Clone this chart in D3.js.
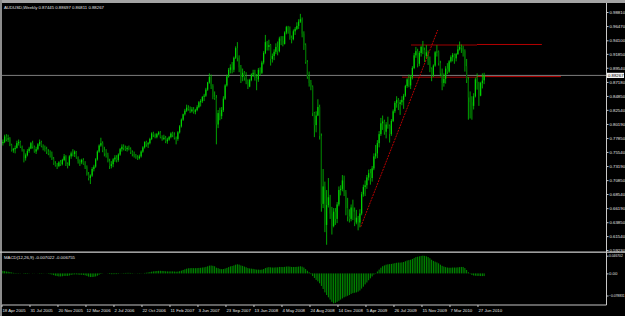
<!DOCTYPE html>
<html>
<head>
<meta charset="utf-8">
<script src="https://cdn.jsdelivr.net/npm/d3@7"></script>
<style>
  body { margin: 0; background: #000; overflow: hidden; }
  svg { display: block; }
  text { font-family: "Liberation Sans", Arial, sans-serif; font-size: 4.3px; fill: #e4e4e4; }
  text.small { font-size: 3.3px; }
</style>
</head>
<body>
<svg id="chart" width="625" height="316"></svg>
<script>
// AUDUSD weekly bars, one row of 16 weeks per line (last line: 4 weeks)
const open = [
  .7700,.7720,.7810,.7760,.7780,.7670,.7580,.7600,.7620,.7700,.7720,.7640,.7590,.7450,.7500,.7570,
  .7610,.7700,.7640,.7560,.7600,.7680,.7720,.7650,.7620,.7600,.7560,.7530,.7510,.7440,.7360,.7330,
  .7320,.7380,.7350,.7420,.7480,.7350,.7330,.7480,.7530,.7520,.7560,.7460,.7400,.7380,.7420,.7360,
  .7300,.7180,.7120,.7160,.7270,.7310,.7430,.7560,.7660,.7700,.7580,.7530,.7500,.7400,.7320,.7350,
  .7430,.7460,.7420,.7510,.7600,.7640,.7620,.7600,.7620,.7600,.7550,.7520,.7490,.7460,.7450,.7480,
  .7560,.7630,.7720,.7680,.7700,.7770,.7860,.7840,.7800,.7850,.7880,.7800,.7770,.7790,.7730,.7760,
  .7800,.7860,.7840,.7790,.7770,.7880,.7980,.8090,.8180,.8240,.8290,.8270,.8230,.8260,.8220,.8250,
  .8300,.8380,.8400,.8470,.8490,.8590,.8710,.8800,.8650,.8470,.8450,.8010,.8200,.8150,.8250,.8440,
  .8660,.8810,.8920,.8960,.8920,.9120,.9280,.9120,.8960,.8800,.8870,.8790,.8720,.8640,.8750,.8840,
  .8870,.8780,.8760,.8920,.8870,.9040,.9200,.9380,.9300,.9330,.9100,.9150,.9220,.9300,.9230,.9440,
  .9400,.9350,.9540,.9630,.9570,.9450,.9430,.9560,.9600,.9650,.9720,.9760,.9520,.9330,.9050,.8800,
  .8700,.8640,.8200,.8000,.8160,.8300,.7820,.6690,.6980,.6340,.6670,.6800,.6530,.6320,.6560,.6440,
  .6680,.6920,.6940,.7080,.6880,.6620,.6480,.6440,.6630,.6560,.6380,.6460,.6380,.6530,.6850,.6970,
  .7000,.7130,.7200,.7120,.7280,.7480,.7530,.7700,.7850,.8030,.8060,.7890,.8010,.7990,.7850,.8070,
  .8230,.8370,.8420,.8350,.8380,.8420,.8490,.8650,.8760,.8660,.8800,.8950,.9160,.9230,.9020,.9200,
  .9300,.9250,.9150,.9210,.9070,.8940,.8830,.8990,.9210,.9220,.9030,.8860,.8700,.8770,.8940,.8890,
  .9060,.9130,.9170,.9110,.9180,.9260,.9300,.9290,.9230,.8980,.8760,.8460,.8380,.8320,.8480,.8760,
  .8700,.8490,.8700,.87445
];
const high = [
  .7760,.7840,.7850,.7840,.7800,.7690,.7620,.7660,.7740,.7760,.7740,.7660,.7600,.7530,.7600,.7640,
  .7720,.7740,.7660,.7640,.7700,.7760,.7740,.7680,.7660,.7640,.7600,.7580,.7560,.7470,.7400,.7370,
  .7400,.7420,.7440,.7520,.7500,.7380,.7500,.7560,.7600,.7580,.7570,.7480,.7430,.7440,.7450,.7400,
  .7330,.7220,.7180,.7300,.7340,.7450,.7580,.7680,.7790,.7730,.7640,.7600,.7540,.7440,.7400,.7450,
  .7500,.7500,.7530,.7620,.7680,.7680,.7660,.7650,.7660,.7630,.7580,.7560,.7520,.7500,.7510,.7580,
  .7650,.7730,.7740,.7720,.7790,.7880,.7890,.7860,.7870,.7900,.7900,.7830,.7840,.7820,.7790,.7820,
  .7880,.7890,.7880,.7810,.7900,.8000,.8110,.8190,.8270,.8340,.8330,.8310,.8300,.8300,.8270,.8330,
  .8400,.8430,.8480,.8520,.8620,.8720,.8860,.8840,.8680,.8560,.8500,.8250,.8290,.8300,.8480,.8680,
  .8840,.8950,.9010,.9050,.9140,.9310,.9380,.9160,.9000,.8940,.8900,.8880,.8760,.8770,.8860,.8920,
  .8920,.8850,.8950,.8960,.9070,.9230,.9500,.9400,.9420,.9350,.9190,.9260,.9360,.9390,.9470,.9480,
  .9480,.9560,.9650,.9650,.9640,.9490,.9590,.9630,.9710,.9760,.9850,.9790,.9560,.9360,.9080,.8890,
  .8750,.8660,.8220,.8230,.8430,.8340,.7860,.7270,.7060,.6920,.7120,.6840,.6640,.6620,.6620,.6720,
  .6980,.7000,.7170,.7160,.6920,.6790,.6600,.6680,.6760,.6630,.6590,.6490,.6600,.6890,.7010,.7080,
  .7170,.7260,.7270,.7320,.7530,.7670,.7750,.7900,.8120,.8160,.8090,.8050,.8140,.8010,.8100,.8260,
  .8400,.8480,.8450,.8420,.8480,.8520,.8670,.8780,.8840,.8830,.8980,.9200,.9300,.9270,.9230,.9320,
  .9400,.9290,.9330,.9240,.9140,.8960,.9010,.9230,.9330,.9240,.9070,.8940,.8860,.8980,.9030,.9080,
  .9160,.9200,.9190,.9200,.9330,.9390,.9340,.9320,.9260,.9100,.8800,.8560,.8480,.8530,.8790,.8860,
  .8720,.8720,.8860,.88697
];
const low = [
  .7660,.7700,.7730,.7720,.7650,.7560,.7540,.7530,.7610,.7660,.7620,.7560,.7380,.7410,.7480,.7540,
  .7600,.7610,.7540,.7520,.7580,.7650,.7630,.7580,.7560,.7520,.7500,.7460,.7420,.7340,.7310,.7270,
  .7300,.7320,.7330,.7400,.7320,.7280,.7320,.7440,.7480,.7470,.7440,.7360,.7320,.7350,.7340,.7270,
  .7160,.7080,.7020,.7140,.7230,.7290,.7410,.7540,.7640,.7550,.7480,.7460,.7380,.7270,.7280,.7300,
  .7390,.7380,.7390,.7490,.7560,.7580,.7570,.7560,.7580,.7520,.7480,.7460,.7440,.7420,.7430,.7460,
  .7540,.7610,.7640,.7620,.7680,.7750,.7800,.7780,.7780,.7830,.7780,.7740,.7750,.7700,.7690,.7740,
  .7780,.7800,.7760,.7680,.7740,.7860,.7960,.8070,.8160,.8220,.8240,.8200,.8210,.8190,.8180,.8230,
  .8280,.8310,.8370,.8400,.8470,.8570,.8690,.8600,.8430,.8420,.7680,.7950,.8080,.8100,.8220,.8420,
  .8640,.8790,.8860,.8860,.8880,.9100,.9060,.8880,.8700,.8730,.8740,.8680,.8600,.8630,.8730,.8800,
  .8740,.8580,.8720,.8820,.8850,.9010,.9180,.9240,.9240,.8990,.9040,.9080,.9180,.9160,.9210,.9330,
  .9310,.9340,.9510,.9520,.9420,.9360,.9410,.9500,.9580,.9600,.9700,.9460,.9250,.9020,.8770,.8640,
  .8580,.8150,.7800,.7880,.8150,.7760,.6560,.6620,.6220,.6010,.6630,.6440,.6180,.6300,.6340,.6370,
  .6650,.6830,.6900,.6820,.6500,.6400,.6380,.6400,.6420,.6320,.6350,.6250,.6300,.6500,.6810,.6820,
  .6940,.7080,.7010,.7060,.7250,.7440,.7450,.7630,.7820,.7920,.7840,.7780,.7940,.7710,.7820,.8050,
  .8200,.8290,.8250,.8170,.8330,.8270,.8470,.8620,.8630,.8600,.8760,.8930,.9120,.8960,.8980,.9140,
  .9180,.9050,.9110,.9000,.8880,.8730,.8800,.8970,.9140,.8990,.8810,.8580,.8640,.8690,.8850,.8870,
  .9040,.9060,.9020,.9060,.9170,.9240,.9200,.9140,.8890,.8700,.8090,.8110,.8090,.8260,.8460,.8590,
  .8320,.8480,.8610,.86811
];
const close = [
  .7720,.7810,.7760,.7780,.7670,.7580,.7600,.7620,.7700,.7720,.7640,.7590,.7450,.7500,.7570,.7610,
  .7700,.7640,.7560,.7600,.7680,.7720,.7650,.7620,.7600,.7560,.7530,.7510,.7440,.7360,.7330,.7320,
  .7380,.7350,.7420,.7480,.7350,.7330,.7480,.7530,.7520,.7560,.7460,.7400,.7380,.7420,.7360,.7300,
  .7180,.7120,.7160,.7270,.7310,.7430,.7560,.7660,.7700,.7580,.7530,.7500,.7400,.7320,.7350,.7430,
  .7460,.7420,.7510,.7600,.7640,.7620,.7600,.7620,.7600,.7550,.7520,.7490,.7460,.7450,.7480,.7560,
  .7630,.7720,.7680,.7700,.7770,.7860,.7840,.7800,.7850,.7880,.7800,.7770,.7790,.7730,.7760,.7800,
  .7860,.7840,.7790,.7770,.7880,.7980,.8090,.8180,.8240,.8290,.8270,.8230,.8260,.8220,.8250,.8300,
  .8380,.8400,.8470,.8490,.8590,.8710,.8800,.8650,.8470,.8450,.8010,.8200,.8150,.8250,.8440,.8660,
  .8810,.8920,.8960,.8920,.9120,.9280,.9120,.8960,.8800,.8870,.8790,.8720,.8640,.8750,.8840,.8870,
  .8780,.8760,.8920,.8870,.9040,.9200,.9380,.9300,.9330,.9100,.9150,.9220,.9300,.9230,.9440,.9400,
  .9350,.9540,.9630,.9570,.9450,.9430,.9560,.9600,.9650,.9720,.9760,.9520,.9330,.9050,.8800,.8700,
  .8640,.8200,.8000,.8160,.8300,.7820,.6690,.6980,.6340,.6670,.6800,.6530,.6320,.6560,.6440,.6680,
  .6920,.6940,.7080,.6880,.6620,.6480,.6440,.6630,.6560,.6380,.6460,.6380,.6530,.6850,.6970,.7000,
  .7130,.7200,.7120,.7280,.7480,.7530,.7700,.7850,.8030,.8060,.7890,.8010,.7990,.7850,.8070,.8230,
  .8370,.8420,.8350,.8380,.8420,.8490,.8650,.8760,.8660,.8800,.8950,.9160,.9230,.9020,.9200,.9300,
  .9250,.9150,.9210,.9070,.8940,.8830,.8990,.9210,.9220,.9030,.8860,.8700,.8770,.8940,.8890,.9060,
  .9130,.9170,.9110,.9180,.9260,.9300,.9290,.9230,.8980,.8760,.8460,.8380,.8320,.8480,.8760,.8700,
  .8490,.8700,.8740,.88267
];
// MACD(12,26,9) main values, in thousandths
const macd = [
  6.5,6,5,4.5,3.5,2.5,1.5,1,0.8,0.8,0.5,0,-1,-1.2,-1,-0.5,
  0,0.5,0.3,0,0.3,0.8,0.8,0.5,0.2,-0.3,-1,-2,-3,-4.5,-6,-7,
  -8,-8,-7.5,-6.5,-6.5,-6.5,-5.5,-4,-3,-2.5,-2.5,-3,-3.5,-3.5,-4,-5,
  -6.5,-8.5,-9.5,-9.5,-9,-8,-6,-3.5,-1.5,-0.5,0,0,-0.5,-1.5,-2,-2,
  -1.8,-1.8,-1.2,-0.3,0.5,1,1.2,1.4,1.4,1.2,0.8,0.3,-0.2,-0.6,-0.8,-0.5,
  0.2,1.2,1.8,2.5,3.3,4.5,5.3,5.8,6.3,6.8,6.8,6.5,6.2,5.6,5.3,5.2,
  5.3,5.3,5,4.5,4.8,5.8,7.2,9,10.8,12.5,13.5,13.8,14,13.8,13.8,14,
  14.5,14.8,15.5,16,17.2,18.8,20.5,20.8,20,18.8,15,13.8,12,11.2,11.5,12.8,
  14.5,16.5,18.5,19.5,21,23,24,23.2,21,19.8,18,16.2,14,13,12.5,12,
  11,10,10,9.5,10,11.5,14,15.5,16.5,16,15.5,15.5,16,16,17,17,
  16.8,17.2,18,18.2,17.8,17,17,17,17.4,18,18.7,17.8,15.5,11.5,7,3,
  -2,-7,-12,-17,-21,-26,-33,-41,-50,-57,-63,-69,-75,-78.8,-77.5,-75,
  -72,-69,-66,-63,-61,-59,-57,-54,-52,-51,-50,-48,-45,-40,-35,-29,
  -24,-18,-13,-8,-3,1,5,10,15,19,21,23,24,24.5,25,26,
  27,28,28.5,28.5,29,30,32,34,35,36,38,40.5,43,44,45,46,
  46.7,46.2,45,43,40,36,33,31,29,26.5,23,20,18,16.5,15.5,15,
  15,15.5,15.5,15.5,16,16.5,17,17,14,9,3,-1,-4,-5.5,-6,-6.5,
  -6.5,-7,-7,-7.022
];

const dateLabels = ["18 Apr 2005", "31 Jul 2005", "20 Nov 2005", "12 Mar 2006", "2 Jul 2006",
  "22 Oct 2006", "11 Feb 2007", "3 Jun 2007", "23 Sep 2007", "13 Jan 2008", "4 May 2008",
  "24 Aug 2008", "14 Dec 2008", "5 Apr 2009", "26 Jul 2009", "15 Nov 2009", "7 Mar 2010", "27 Jun 2010"];
const priceTicks = [0.98810, 0.96470, 0.94100, 0.91850, 0.89540, 0.87180, 0.84850, 0.82540, 0.80190,
  0.77850, 0.75540, 0.73190, 0.70850, 0.68540, 0.66190, 0.63850, 0.61540, 0.59230];
const macdTicks = [0.046702, 0, -0.078831];
const lastPrice = 0.88267;

// drawn objects: trendline anchors [bar, price] and horizontal levels
const trendLine = [[204.5, 0.6310], [248.5, 0.9582]];
const levels = [
  { price: 0.9341, from: 233.2, mid: 270.9, to: 308.0 },
  { price: 0.8807, from: 228.1, mid: 270.9, to: 318.9 }
];

const W = 625, H = 316;
const axisX = 606.5;     // right price axis
const mainTop = 3, mainBottom = 251.5;
const subBottom = 305;

const svg = d3.select("#chart");

const x = d3.scaleLinear().domain([0, 344]).range([2.875, 604.875]);
const y = d3.scaleLinear().domain([0.5923, 0.9881]).range([250, 12]);
const ym = d3.scaleLinear().domain([-0.0788, 0.0467]).range([303.3, 255.7]);

svg.append("rect").attr("width", W).attr("height", H).attr("fill", "#000");

const bars = d3.range(close.length).map(i => ({
  i, o: open[i], h: high[i], l: low[i], c: close[i], m: macd[i] / 1000
}));

// main window clip
svg.append("clipPath").attr("id", "mainClip")
  .append("rect").attr("x", 2).attr("y", mainTop).attr("width", axisX - 2).attr("height", mainBottom - mainTop);

const main = svg.append("g").attr("clip-path", "url(#mainClip)");

// current price line
main.append("line")
  .attr("x1", 2).attr("x2", axisX)
  .attr("y1", y(lastPrice)).attr("y2", y(lastPrice))
  .attr("stroke", "#8c8c8c").attr("stroke-width", 0.9);

// horizontal levels (dark part behind bars)
const lv = main.append("g");
levels.forEach(d => {
  lv.append("line")
    .attr("x1", x(d.from)).attr("x2", x(d.mid))
    .attr("y1", y(d.price) + 0.6).attr("y2", y(d.price) + 0.6)
    .attr("stroke", "#6a0000").attr("stroke-width", 1.6);
  lv.append("line")
    .attr("x1", x(d.mid)).attr("x2", x(d.to))
    .attr("y1", y(d.price)).attr("y2", y(d.price))
    .attr("stroke", "#c80000").attr("stroke-width", 0.9);
});

// candles
const candle = main.append("g").selectAll("g").data(bars).enter().append("g");
candle.append("line")
  .attr("x1", d => x(d.i)).attr("x2", d => x(d.i))
  .attr("y1", d => y(d.h)).attr("y2", d => y(d.l))
  .attr("stroke", "#00cc00").attr("stroke-width", 0.8);
candle.append("rect")
  .attr("x", d => x(d.i) - 0.6)
  .attr("width", 1.2)
  .attr("y", d => y(Math.max(d.o, d.c)))
  .attr("height", d => Math.max(0.6, Math.abs(y(d.o) - y(d.c))))
  .attr("fill", d => d.c >= d.o ? "#00d400" : "#006400");

// trendline
main.append("line")
  .attr("x1", x(trendLine[0][0])).attr("y1", y(trendLine[0][1]))
  .attr("x2", x(trendLine[1][0])).attr("y2", y(trendLine[1][1]))
  .attr("stroke", "#d00000").attr("stroke-width", 0.9)
  .attr("stroke-dasharray", "2,1");

// MACD histogram
svg.append("g").selectAll("line").data(bars).enter().append("line")
  .attr("x1", d => x(d.i)).attr("x2", d => x(d.i))
  .attr("y1", ym(0)).attr("y2", d => ym(d.m))
  .attr("stroke", "#00b800").attr("stroke-width", 0.8);

// frame
svg.append("rect").attr("x", 0).attr("y", 0).attr("width", W).attr("height", 3).attr("fill", "#a4a4a4");
svg.append("rect").attr("x", 0).attr("y", 0).attr("width", 2).attr("height", H).attr("fill", "#8c8c8c");
svg.append("rect").attr("x", 0).attr("y", mainBottom).attr("width", W).attr("height", 1.3).attr("fill", "#c4c4c4");
svg.append("line").attr("x1", 2).attr("x2", axisX).attr("y1", subBottom).attr("y2", subBottom)
  .attr("stroke", "#c4c4c4").attr("stroke-width", 1);
svg.append("line").attr("x1", axisX).attr("x2", axisX).attr("y1", mainTop).attr("y2", subBottom)
  .attr("stroke", "#c8c8c8").attr("stroke-width", 1);

// price axis
const yAxis = svg.append("g").attr("transform", `translate(${axisX},0)`)
  .call(d3.axisRight(y).tickValues(priceTicks).tickFormat(d3.format(".5f")).tickSize(2).tickPadding(1));
yAxis.select(".domain").remove();
yAxis.selectAll("line").attr("stroke", "#c8c8c8");
yAxis.selectAll("text").attr("font-size", null).attr("font-family", null).attr("fill", null);

// current price box
svg.append("rect").attr("x", axisX + 0.5).attr("y", y(lastPrice) - 2.6)
  .attr("width", 17).attr("height", 5.2).attr("fill", "#f4f4f4");
svg.append("text").attr("x", axisX + 1.5).attr("y", y(lastPrice) + 1.6)
  .style("fill", "#000").text(d3.format(".5f")(lastPrice));

// MACD axis
const mAxis = svg.append("g").attr("transform", `translate(${axisX},0)`)
  .call(d3.axisRight(ym).tickValues(macdTicks)
    .tickFormat(d => d === 0 ? "0.00" : d3.format(".6f")(d)).tickSize(2).tickPadding(0.5));
mAxis.select(".domain").remove();
mAxis.selectAll("line").attr("stroke", "#c8c8c8");
mAxis.selectAll("text").attr("font-size", null).attr("font-family", null).attr("fill", null)
  .attr("class", d => d === 0 ? null : "small");
mAxis.selectAll(".tick").filter(d => d < 0).attr("transform", "translate(0,296)");

// date axis
const xAxis = svg.append("g").attr("transform", `translate(0,${subBottom})`)
  .call(d3.axisBottom(x).tickValues(dateLabels.map((_, k) => k * 16))
    .tickFormat((_, k) => dateLabels[k]).tickSize(2).tickPadding(1));
xAxis.select(".domain").remove();
xAxis.selectAll(".tick").attr("transform", d => `translate(${x(d) - 0.9},0)`);
xAxis.selectAll("line").attr("stroke", "#c8c8c8");
xAxis.selectAll("text").attr("font-size", null).attr("font-family", null).attr("fill", null)
  .attr("text-anchor", "start").attr("x", 0.5).attr("dy", "0.9em");

// window titles
svg.append("text").attr("x", 4).attr("y", 8.5).text("AUDUSD,Weekly  0.87445 0.88697 0.86811 0.88267");
svg.append("text").attr("x", 4).attr("y", 258.8).text("MACD(12,26,9) -0.007022 -0.006755");
</script>
</body>
</html>
